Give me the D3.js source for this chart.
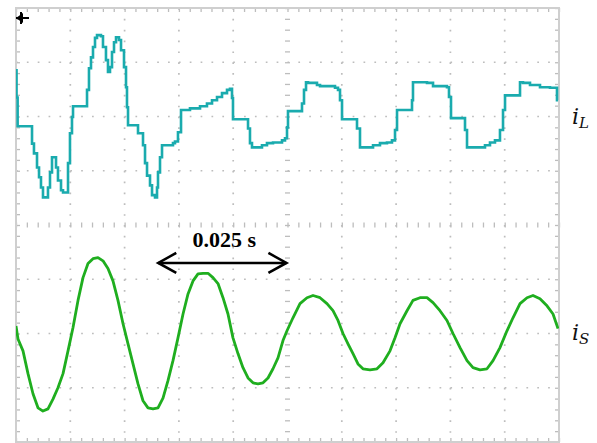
<!DOCTYPE html>
<html>
<head>
<meta charset="utf-8">
<script src="https://cdn.jsdelivr.net/npm/d3@7"></script>
<style>
  body { margin: 0; background: #fff; }
  svg { display: block; }
</style>
</head>
<body>
<svg id="scope" width="597" height="443"></svg>
<script>
// time in ms (10 ms / div), amplitude in divisions (8 div tall)
const iLTime = [0, 0.1, 0.3, 2.95, 3.31, 3.87, 4.24, 4.6, 4.97, 5.89, 6.26, 6.63, 7.37, 7.73, 8.29, 8.66,
  9.58, 9.94, 10.31, 10.5, 13.08, 13.44, 13.81, 14.18, 14.55, 14.92, 15.65, 16.02, 16.57, 16.94, 17.31,
  17.68, 18.05, 18.42, 18.97, 19.34, 19.89, 20.26, 20.44, 20.63, 22.47, 23.39, 23.76, 24.13, 24.68, 25.05,
  25.6, 25.97, 26.15, 26.52, 26.89, 28.91, 29.28, 29.83, 30.39, 32.04, 33.89, 35.17, 36.1, 37.02, 37.94,
  38.86, 39.41, 39.78, 39.96, 42.73, 43.09, 43.46, 45.3, 46.22, 47.33, 48.99, 49.54, 49.91, 50.09, 52.67,
  53.04, 53.41, 53.78, 55.43, 55.99, 58.75, 59.3, 59.67, 60.04, 62.8, 63.35, 65.75, 67.03, 68.32, 69.24,
  69.8, 70.17, 72.93, 73.11, 75.69, 76.8, 79.37, 79.74, 80.11, 82.69, 83.06, 83.61, 86.37, 87.29, 88.21,
  89.13, 89.69, 90.06, 92.82, 93.19, 93.37, 94.66, 96.5, 98.34, 99.63, 99.82, 100];
const iLValue = [2.85, 2.35, 1.82, 1.5, 1.32, 1.06, 0.88, 0.69, 0.51, 0.69, 0.97, 1.25, 1.06, 0.82, 0.64, 0.6,
  1.14, 1.69, 1.99, 2.19, 2.49, 2.89, 3.09, 3.28, 3.45, 3.5, 3.48, 3.28, 3.04, 2.82, 2.91,
  3.19, 3.37, 3.46, 3.41, 3.22, 2.91, 2.54, 2.17, 1.84, 1.69, 1.47, 1.14, 0.91, 0.73, 0.55,
  0.51, 0.69, 0.97, 1.25, 1.47, 1.51, 1.54, 1.71, 2.12, 2.15, 2.19, 2.24, 2.3, 2.36, 2.43,
  2.49, 2.51, 2.34, 1.95, 1.78, 1.51, 1.43, 1.47, 1.51, 1.52, 1.56, 1.6, 1.8, 2.1, 2.24,
  2.49, 2.63, 2.62, 2.58, 2.56, 2.53, 2.49, 2.3, 1.95, 1.78, 1.43, 1.47, 1.51, 1.52, 1.56,
  1.75, 2.12, 2.3, 2.63, 2.62, 2.56, 2.54, 2.36, 1.97, 1.75, 1.43, 1.43, 1.47, 1.52,
  1.56, 1.75, 2.12, 2.39, 2.63, 2.63, 2.62, 2.58, 2.54, 2.53, 2.3, 2.3];

const iSTime = [0, 0.37, 1.29, 2.21, 3.13, 4.05, 4.97, 5.89, 6.81, 7.73, 8.66, 9.58, 10.5, 11.42, 12.34,
  13.26, 14.18, 15.1, 16.02, 16.94, 17.86, 18.78, 19.71, 20.63, 21.55, 22.47, 23.39, 24.31, 25.23, 26.15,
  27.07, 27.99, 28.91, 29.83, 30.76, 31.68, 32.6, 33.52, 34.44, 35.36, 36.28, 37.2, 38.12, 39.04, 39.96,
  40.88, 41.8, 42.73, 43.65, 44.57, 45.49, 46.41, 47.33, 48.25, 49.17, 49.91, 51.01, 52.3, 53.59, 54.7,
  55.99, 57.27, 58.38, 59.3, 60.22, 61.14, 62.06, 62.98, 63.9, 65.19, 66.48, 67.59, 68.88, 69.8, 70.72,
  72.01, 73.11, 74.4, 75.69, 76.8, 78.08, 79.37, 80.48, 81.77, 83.06, 84.16, 85.45, 86.74, 87.85, 89.13,
  90.42, 91.53, 92.82, 94.11, 95.21, 96.5, 97.79, 98.9, 99.82];
const iSValue = [-1.86, -2.1, -2.32, -2.74, -3.11, -3.37, -3.43, -3.39, -3.21, -3.0, -2.74, -2.32, -1.89, -1.39, -0.97,
  -0.71, -0.62, -0.6, -0.66, -0.8, -1.03, -1.39, -1.82, -2.19, -2.56, -2.93, -3.24, -3.37, -3.39, -3.37,
  -3.19, -2.87, -2.5, -2.08, -1.64, -1.27, -1.03, -0.9, -0.89, -0.89, -0.97, -1.08, -1.34, -1.64, -2.08,
  -2.37, -2.63, -2.82, -2.91, -2.93, -2.91, -2.82, -2.65, -2.45, -2.13, -1.95, -1.71, -1.45, -1.34, -1.3,
  -1.34, -1.45, -1.58, -1.76, -2.0, -2.19, -2.37, -2.56, -2.65, -2.67, -2.65, -2.54, -2.32, -2.08, -1.82,
  -1.58, -1.39, -1.34, -1.34, -1.43, -1.58, -1.76, -2.0, -2.26, -2.5, -2.63, -2.67, -2.65, -2.5, -2.26,
  -1.95, -1.71, -1.45, -1.34, -1.3, -1.36, -1.49, -1.64, -1.91];

const timeGrid = [10, 20, 30, 40, 60, 70, 80, 90];
const ampGrid = [-3, -2, -1, 1, 2, 3];
const traceLabels = [
  { name: "L", level: 1.87 },
  { name: "S", level: -2.12 }
];
const spanStart = 26.2, spanEnd = 49.8, spanLevel = -0.7, spanText = "0.025 s";

var svg = d3.select("#scope"),
  padLeft = 16, padTop = 8, w = 543, h = 434;

var x = d3.scaleLinear().domain([0, 100]).range([padLeft, padLeft + w]);
var y = d3.scaleLinear().domain([-4, 4]).range([padTop + h, padTop]);

const gridColor = "#bdbdbd";
var minorX = d3.range(0, 100.01, 2);
var minorY = d3.range(-4, 4.01, 0.2);

var g = svg.append("g").attr("class", "grid");

// dotted grid lines
g.selectAll("line.vx")
  .data(timeGrid)
  .enter()
  .append("line")
  .attr("x1", (d) => x(d)).attr("x2", (d) => x(d))
  .attr("y1", y(4)).attr("y2", y(-4))
  .attr("stroke", gridColor)
  .attr("stroke-width", 1.7)
  .attr("stroke-dasharray", "1.7," + (h / 40 - 1.7));

g.selectAll("line.hy")
  .data(ampGrid)
  .enter()
  .append("line")
  .attr("y1", (d) => y(d)).attr("y2", (d) => y(d))
  .attr("x1", x(0)).attr("x2", x(100))
  .attr("stroke", gridColor)
  .attr("stroke-width", 1.7)
  .attr("stroke-dasharray", "1.7," + (w / 50 - 1.7));

// center cross with tick marks (built from axes)
g.append("g")
  .attr("transform", "translate(0," + (y(0) + 2.5) + ")")
  .call(d3.axisTop(x).tickValues(minorX).tickSize(5).tickFormat(""));
g.append("g")
  .attr("transform", "translate(" + (x(50) + 2.5) + ",0)")
  .call(d3.axisLeft(y).tickValues(minorY).tickSize(5).tickFormat(""));

// border ticks pointing inward
g.append("g")
  .attr("transform", "translate(0," + y(4) + ")")
  .call(d3.axisBottom(x).tickValues(minorX).tickSize(4).tickFormat(""));
g.append("g")
  .attr("transform", "translate(0," + y(-4) + ")")
  .call(d3.axisTop(x).tickValues(minorX).tickSize(4).tickFormat(""));
g.append("g")
  .attr("transform", "translate(" + x(0) + ",0)")
  .call(d3.axisRight(y).tickValues(minorY).tickSize(4).tickFormat(""));
g.append("g")
  .attr("transform", "translate(" + x(100) + ",0)")
  .call(d3.axisLeft(y).tickValues(minorY).tickSize(4).tickFormat(""));

g.selectAll(".domain").remove();
g.selectAll(".tick line").attr("stroke", gridColor).attr("stroke-width", 1.3);

g.append("rect")
  .attr("x", x(0)).attr("y", y(4))
  .attr("width", w).attr("height", h)
  .attr("fill", "none")
  .attr("stroke", "#cfcfcf")
  .attr("stroke-width", 2);

// traces
var clip = svg.append("defs").append("clipPath").attr("id", "plotclip");
clip.append("rect").attr("x", x(0)).attr("y", y(4)).attr("width", w).attr("height", h);

var line = d3.line()
  .x((d) => x(d[0]))
  .y((d) => y(d[1]));

var iL = d3.zip(iLTime, iLValue);
var iS = d3.zip(iSTime, iSValue);

svg.append("path")
  .datum(iL)
  .attr("clip-path", "url(#plotclip)")
  .attr("d", line.curve(d3.curveStepAfter))
  .attr("fill", "none")
  .attr("stroke", "#1aabae")
  .attr("stroke-width", 2.6)
  .attr("stroke-linejoin", "miter");

svg.append("path")
  .datum(iS)
  .attr("clip-path", "url(#plotclip)")
  .attr("d", line.curve(d3.curveLinear))
  .attr("fill", "none")
  .attr("stroke", "#1fae1f")
  .attr("stroke-width", 2.8)
  .attr("stroke-linejoin", "round");

// trigger marker in the corner
var mk = svg.append("g").attr("transform", "translate(" + x(0) + "," + (y(4) + 10) + ")");
mk.append("path").attr("d", "M0,0 L7,-5 L7,5 Z").attr("fill", "#000");
mk.append("line").attr("x1", 0).attr("x2", 13).attr("y1", 0).attr("y2", 0)
  .attr("stroke", "#000").attr("stroke-width", 2);
mk.append("line").attr("x1", 5).attr("x2", 5).attr("y1", -6).attr("y2", 6)
  .attr("stroke", "#000").attr("stroke-width", 2);

// trace names
var lab = svg.append("g")
  .selectAll("text")
  .data(traceLabels)
  .enter()
  .append("text")
  .attr("x", x(100) + 13)
  .attr("y", (d) => y(d.level))
  .attr("font-family", "DejaVu Serif, serif")
  .attr("font-style", "italic")
  .attr("font-size", 22)
  .attr("fill", "#111");
lab.append("tspan").text("i");
lab.append("tspan").attr("font-size", 15).attr("dy", 4).text((d) => d.name);

// 0.025 s span arrow
var ar = svg.append("g").attr("stroke", "#000").attr("stroke-width", 2.6).attr("fill", "none");
var ay = y(spanLevel);
ar.append("line").attr("x1", x(spanStart)).attr("x2", x(spanEnd)).attr("y1", ay).attr("y2", ay);
ar.append("path").attr("d", "M" + (x(spanStart) + 18) + "," + (ay - 10) + " L" + x(spanStart) + "," + ay + " L" + (x(spanStart) + 18) + "," + (ay + 10));
ar.append("path").attr("d", "M" + (x(spanEnd) - 18) + "," + (ay - 10) + " L" + x(spanEnd) + "," + ay + " L" + (x(spanEnd) - 18) + "," + (ay + 10));

svg.append("text")
  .attr("x", (x(spanStart) + x(spanEnd)) / 2 + 2)
  .attr("y", ay - 16)
  .attr("text-anchor", "middle")
  .attr("font-family", "Liberation Serif, Times New Roman, serif")
  .attr("font-weight", "bold")
  .attr("font-size", 22)
  .attr("fill", "#000")
  .text(spanText);
</script>
</body>
</html>
